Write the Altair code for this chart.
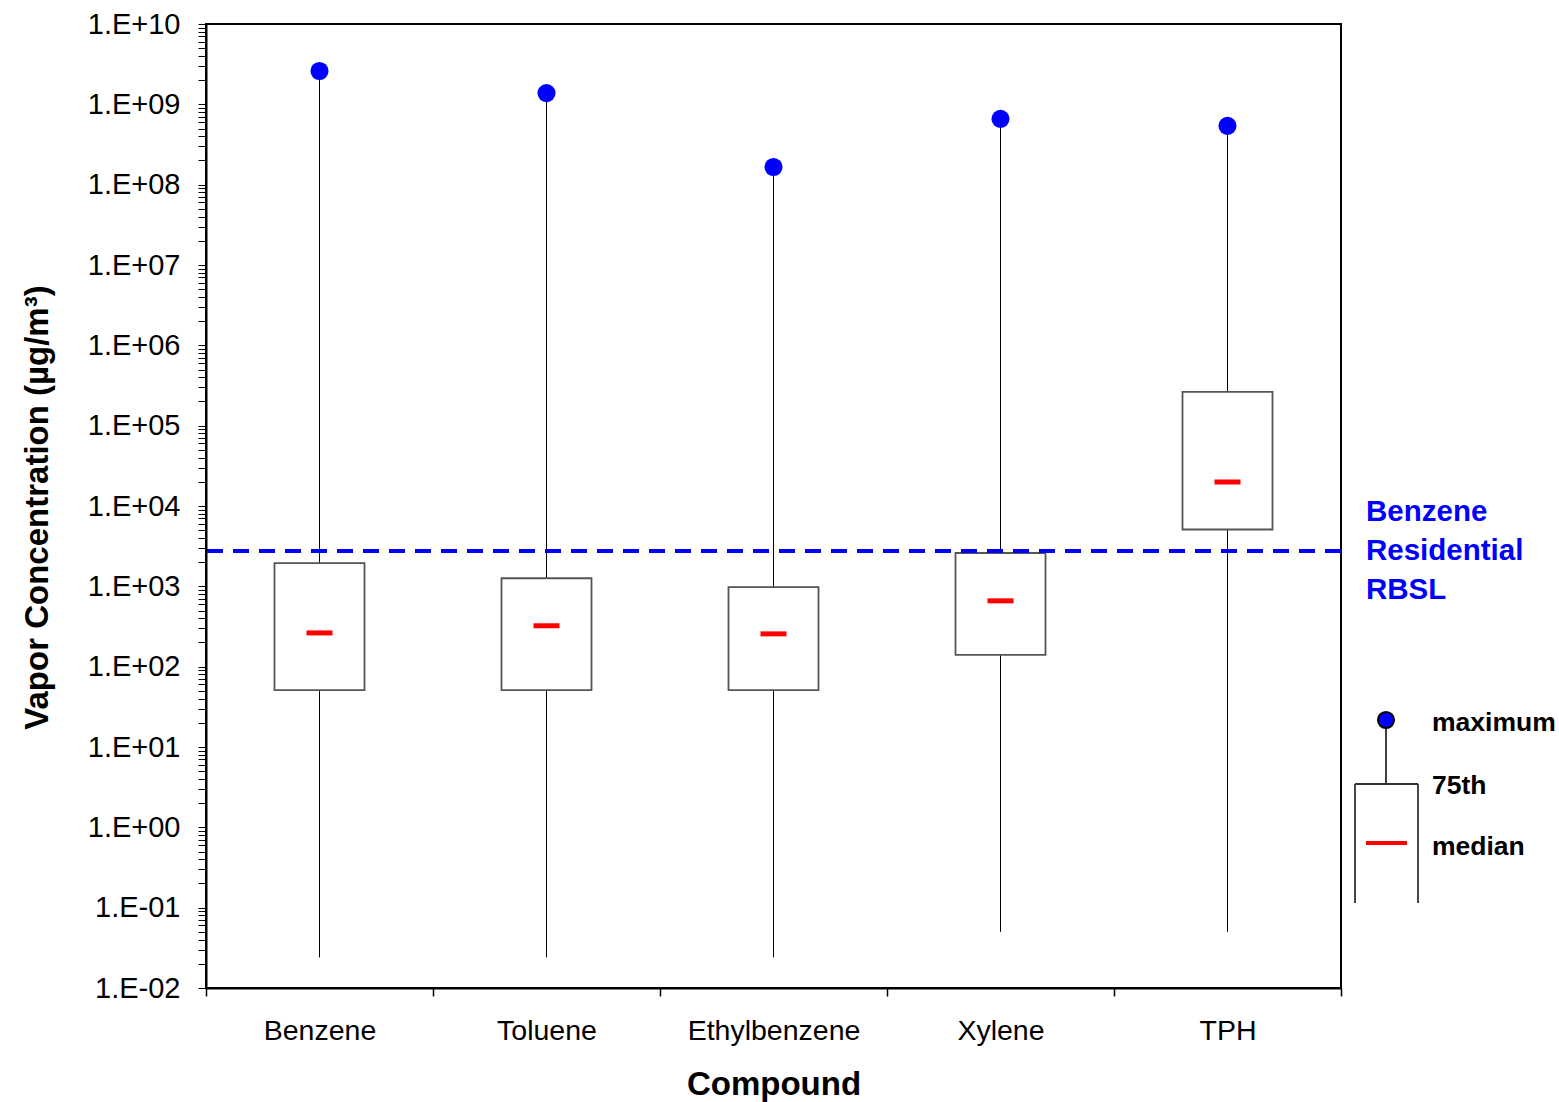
import altair as alt
import pandas as pd

# Vapor concentration summary statistics per compound (µg/m³)
compounds = ["Benzene", "Toluene", "Ethylbenzene", "Xylene", "TPH"]
minimum = [0.024, 0.024, 0.024, 0.05, 0.05]
q1 = [51, 51, 51, 140, 5100]
median = [263, 323, 256, 660, 19900]
q3 = [1950, 1260, 980, 2600, 263000]
maximum = [2.6e9, 1.38e9, 1.66e8, 6.6e8, 5.4e8]
rbsl = 2750  # benzene residential RBSL

rbsl_lines = ["Benzene", "Residential", "RBSL"]
key_labels = ["maximum", "75th", "median"]

df = pd.DataFrame({
    "compound": compounds,
    "min": minimum,
    "q1": q1,
    "median": median,
    "q3": q3,
    "max": maximum,
})

FONT = "Liberation Sans"
W, H = 1135, 964

# log axis: labelled decades plus unlabelled 2..9 subdivisions
tick_values = [m * 10.0 ** k for k in range(-2, 10) for m in range(1, 10)] + [1e10]
label_expr = (
    "abs(log(datum.value)/LN10 - round(log(datum.value)/LN10)) < 1e-6 ? "
    "'1.E' + (round(log(datum.value)/LN10) < 0 ? '-' : '+') + "
    "format(abs(round(log(datum.value)/LN10)), '02d') : ''"
)

x_enc = alt.X(
    "compound:N",
    sort=compounds,
    scale=alt.Scale(paddingInner=0, paddingOuter=0),
    axis=alt.Axis(
        title="Compound",
        titleFont=FONT, titleFontSize=33, titleFontWeight="bold", titleColor="black",
        titleX=W / 2, titleY=96, titleBaseline="middle", titleAlign="center",
        labelFont=FONT, labelFontSize=28.5, labelColor="black", labelAngle=0,
        labelPadding=20, tickSize=8, tickBand="extent",
        tickColor="black", domainColor="black", domainWidth=2, tickWidth=1.5,
    ),
)

y_scale = alt.Scale(type="log", domain=[0.01, 1e10], nice=False)
y_axis = alt.Axis(
    title="Vapor Concentration (µg/m³)",
    titleFont=FONT, titleFontSize=33, titleFontWeight="bold", titleColor="black",
    titleX=-169, titleY=483, titleAngle=-90, titleBaseline="middle", titleAlign="center",
    values=tick_values, labelExpr=label_expr, labelOverlap=False,
    labelFont=FONT, labelFontSize=29, labelColor="black", labelPadding=18,
    tickSize=8, tickColor="black", tickWidth=1, domainColor="black", domainWidth=2,
    grid=False,
)

base = alt.Chart(df).encode(x=x_enc)

whisker = base.mark_rule(color="black", strokeWidth=1).encode(
    y=alt.Y("min:Q", scale=y_scale, axis=y_axis), y2="max:Q"
)
box = base.mark_bar(size=90, fill="white", stroke="#555555", strokeWidth=1.8).encode(
    y=alt.Y("q1:Q", scale=y_scale), y2="q3:Q"
)
med = base.mark_tick(color="#ff0000", size=26, thickness=5, opacity=1).encode(
    y=alt.Y("median:Q", scale=y_scale)
)
top = base.mark_circle(color="#0000ff", size=330, opacity=1).encode(
    y=alt.Y("max:Q", scale=y_scale)
)

ref = alt.Chart(pd.DataFrame({"rbsl": [rbsl]})).mark_rule(
    color="#0000ff", strokeWidth=4, strokeDash=[16, 10]
).encode(y=alt.Y("rbsl:Q", scale=y_scale))

one = pd.DataFrame({"k": [0]})


def label(text, x, y, size, color):
    return alt.Chart(one).mark_text(
        text=text, align="left", baseline="middle", font=FONT, fontSize=size,
        fontWeight="bold", color=color
    ).encode(x=alt.value(x), y=alt.value(y))


# label beside the reference line
rbsl_text = [
    label(t, W + 25, yy, 29.5, "#0000ff") for t, yy in zip(rbsl_lines, [488, 527, 566])
]

# key explaining the box symbols
key_stem = alt.Chart(one).mark_rule(color="black", strokeWidth=1.5).encode(
    x=alt.value(1180), y=alt.value(696), y2=alt.value(760)
)
key_top = alt.Chart(one).mark_rule(color="#333333", strokeWidth=1.8).encode(
    x=alt.value(1149), x2=alt.value(1212), y=alt.value(760)
)
key_left = alt.Chart(one).mark_rule(color="#333333", strokeWidth=1.8).encode(
    x=alt.value(1149), y=alt.value(760), y2=alt.value(879)
)
key_right = alt.Chart(one).mark_rule(color="#333333", strokeWidth=1.8).encode(
    x=alt.value(1212), y=alt.value(760), y2=alt.value(879)
)
key_med = alt.Chart(one).mark_rule(color="#ff0000", strokeWidth=4).encode(
    x=alt.value(1160), x2=alt.value(1201), y=alt.value(819)
)
key_dot = alt.Chart(one).mark_point(
    filled=True, fill="#0000ff", stroke="black", strokeWidth=2, size=260, opacity=1
).encode(x=alt.value(1180), y=alt.value(696))

key_text = [
    label(t, 1226, yy, 26.5, "black") for t, yy in zip(key_labels, [699, 762, 823])
]

chart = alt.layer(
    whisker, box, med, top, ref, *rbsl_text,
    key_stem, key_top, key_left, key_right, key_med, key_dot, *key_text,
).properties(
    width=W, height=H,
    padding={"left": 206, "top": 24, "right": 218, "bottom": 114},
    autosize=alt.AutoSizeParams(type="none"),
    background="white",
).configure_view(stroke="black", strokeWidth=2)

chart.save("out.html", embed_options={"renderer": "svg", "actions": False})
